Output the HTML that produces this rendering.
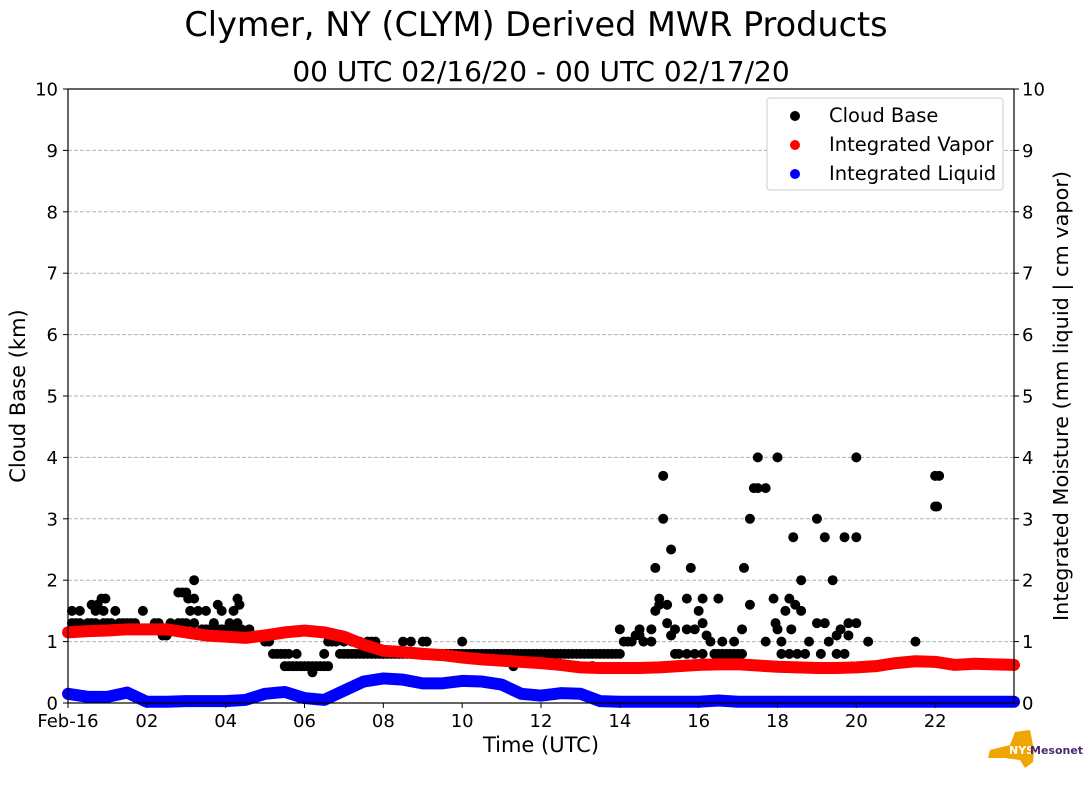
<!DOCTYPE html>
<html><head><meta charset="utf-8"><style>
body{margin:0;background:#fff;width:1089px;height:804px;overflow:hidden;font-family:"DejaVu Sans","Liberation Sans",sans-serif}
</style></head><body>
<svg id="chart" width="1089" height="804" font-family="DejaVu Sans, Liberation Sans, sans-serif">
<text x="536" y="36" font-size="33.5" text-anchor="middle">Clymer, NY (CLYM) Derived MWR Products</text>
<text x="541" y="81" font-size="28" text-anchor="middle">00 UTC 02/16/20 - 00 UTC 02/17/20</text>
<g id="grid"></g><g id="marks"></g>
<rect x="68" y="89" width="946" height="614" fill="none" stroke="#000" stroke-width="1.2"/>
<g id="axes" font-size="18"></g>
<text x="25" y="396" font-size="21" text-anchor="middle" transform="rotate(-90 25 396)">Cloud Base (km)</text>
<text x="1068" y="396" font-size="20.8" text-anchor="middle" transform="rotate(-90 1068 396)">Integrated Moisture (mm liquid | cm vapor)</text>
<text x="541" y="752" font-size="21" text-anchor="middle">Time (UTC)</text>
<g>
<rect x="767" y="98" width="236" height="92" rx="3" fill="#fff" stroke="#ccc"/>
<circle cx="795" cy="116" r="5" fill="#000"/><text x="829" y="122" font-size="19.5">Cloud Base</text>
<circle cx="795" cy="145" r="5" fill="#f00"/><text x="829" y="151" font-size="19.5">Integrated Vapor</text>
<circle cx="795" cy="174" r="5" fill="#00f"/><text x="829" y="180" font-size="19.5">Integrated Liquid</text>
</g>
<g>
<path d="M990 750 L1010 745 L1015 732 L1030 730 L1034 750 L1033 762 L1025 768 L1020 760 L1005 758 L988 758 Z" fill="#f0a500"/>
<text x="1009" y="754" font-size="11" font-weight="bold" fill="#fff">NYS</text>
<text x="1030" y="754" font-size="11" font-weight="bold" fill="#4b2a6b">Mesonet</text>
</g>
</svg>
<script>
const hours=[0,0.5,1,1.5,2,2.5,3,3.5,4,4.5,5,5.5,6,6.5,7,7.5,8,8.5,9,9.5,10,10.5,11,11.5,12,12.5,13,13.5,14,14.5,15,15.5,16,16.5,17,17.5,18,18.5,19,19.5,20,20.5,21,21.5,22,22.5,23,23.5,24];
const vapor=[1.15,1.17,1.18,1.2,1.2,1.2,1.15,1.1,1.08,1.06,1.1,1.15,1.18,1.15,1.08,0.95,0.85,0.83,0.8,0.78,0.74,0.71,0.69,0.67,0.65,0.62,0.58,0.57,0.57,0.57,0.58,0.6,0.62,0.63,0.63,0.61,0.59,0.58,0.57,0.57,0.58,0.6,0.65,0.68,0.67,0.62,0.64,0.63,0.62];
const liquid=[0.15,0.1,0.1,0.17,0.02,0.02,0.03,0.03,0.03,0.05,0.15,0.18,0.08,0.05,0.2,0.35,0.4,0.38,0.32,0.32,0.36,0.35,0.3,0.15,0.12,0.16,0.15,0.03,0.02,0.02,0.02,0.02,0.02,0.04,0.02,0.02,0.02,0.02,0.02,0.02,0.02,0.02,0.02,0.02,0.02,0.02,0.02,0.02,0.02];
const cbTimes=[0.1,0.2,0.3,0.5,0.6,0.7,0.9,1.0,1.1,1.3,1.4,1.5,1.6,1.7,0.1,0.3,0.7,0.9,1.2,1.9,0.6,0.75,0.85,0.95,2.2,2.3,2.6,2.8,2.9,3.0,2.4,2.5,2.0,3.4,3.5,3.6,3.8,3.9,4.0,4.2,4.4,4.6,3.2,3.7,4.1,4.3,2.8,2.9,3.0,3.05,3.2,3.2,3.1,3.3,3.5,3.9,4.2,3.8,4.35,4.3,4.7,4.8,4.9,5.0,5.1,5.2,5.3,5.4,5.5,5.6,5.5,5.6,5.7,5.8,5.9,6.0,6.1,6.2,6.3,6.4,6.5,6.6,6.2,5.8,6.5,6.6,6.7,6.8,7.0,7.2,7.4,7.6,7.7,7.8,
6.9,7.0,7.1,7.2,7.3,7.4,7.5,7.6,7.7,7.8,7.9,8.0,8.1,8.2,8.3,8.4,8.5,8.6,8.7,8.8,8.9,9.0,9.1,9.2,9.3,9.4,9.5,9.6,9.7,9.8,9.9,10.0,10.1,10.2,10.3,10.4,10.5,10.6,10.7,10.8,10.9,11.0,11.1,11.2,11.3,11.4,11.5,11.6,11.7,11.8,11.9,12.0,12.1,12.2,12.3,12.4,12.5,12.6,12.7,12.8,12.9,13.0,13.1,13.2,13.3,13.4,13.5,13.6,13.7,13.8,13.9,8.5,8.7,9.0,9.1,10.0,11.3,13.3,
14.0,14.1,14.2,14.3,14.4,14.5,14.6,14.8,14.0,14.5,14.8,14.9,15.0,15.2,15.0,14.9,15.1,15.1,15.3,15.2,15.3,15.4,15.4,15.5,15.7,15.9,16.1,15.7,15.8,15.7,15.9,16.0,16.1,16.1,16.2,16.3,16.6,16.4,16.5,16.6,16.7,16.8,16.9,17.0,17.1,16.5,16.9,17.1,17.15,17.3,17.3,17.4,17.5,17.5,17.7,17.7,17.9,17.95,18.0,18.0,18.1,18.1,18.3,18.2,18.3,18.5,18.35,18.4,18.45,18.6,18.6,18.7,18.8,19.0,19.0,19.2,19.1,19.2,19.3,19.4,19.5,19.5,19.7,19.6,19.7,19.8,19.8,20.0,20.0,20.0,20.3,21.5,22.0,22.1,22.05,22.0];
const cbValues=[1.3,1.3,1.3,1.3,1.3,1.3,1.3,1.3,1.3,1.3,1.3,1.3,1.3,1.3,1.5,1.5,1.5,1.5,1.5,1.5,1.6,1.6,1.7,1.7,1.3,1.3,1.3,1.3,1.3,1.3,1.1,1.1,1.2,1.2,1.2,1.2,1.2,1.2,1.2,1.2,1.2,1.2,1.3,1.3,1.3,1.3,1.8,1.8,1.8,1.7,1.7,2.0,1.5,1.5,1.5,1.5,1.5,1.6,1.6,1.7,1.1,1.1,1.1,1.0,1.0,0.8,0.8,0.8,0.8,0.8,0.6,0.6,0.6,0.6,0.6,0.6,0.6,0.6,0.6,0.6,0.6,0.6,0.5,0.8,0.8,1.0,1.0,1.0,1.0,1.0,1.0,1.0,1.0,1.0,
0.8,0.8,0.8,0.8,0.8,0.8,0.8,0.8,0.8,0.8,0.8,0.8,0.8,0.8,0.8,0.8,0.8,0.8,0.8,0.8,0.8,0.8,0.8,0.8,0.8,0.8,0.8,0.8,0.8,0.8,0.8,0.8,0.8,0.8,0.8,0.8,0.8,0.8,0.8,0.8,0.8,0.8,0.8,0.8,0.8,0.8,0.8,0.8,0.8,0.8,0.8,0.8,0.8,0.8,0.8,0.8,0.8,0.8,0.8,0.8,0.8,0.8,0.8,0.8,0.8,0.8,0.8,0.8,0.8,0.8,0.8,1.0,1.0,1.0,1.0,1.0,0.6,0.6,
0.8,1.0,1.0,1.0,1.1,1.1,1.0,1.0,1.2,1.2,1.2,1.5,1.6,1.6,1.7,2.2,3.0,3.7,2.5,1.3,1.1,1.2,0.8,0.8,0.8,0.8,0.8,1.7,2.2,1.2,1.2,1.5,1.3,1.7,1.1,1.0,1.0,0.8,0.8,0.8,0.8,0.8,0.8,0.8,0.8,1.7,1.0,1.2,2.2,1.6,3.0,3.5,3.5,4.0,3.5,1.0,1.7,1.3,1.2,4.0,0.8,1.0,1.7,1.5,0.8,0.8,1.2,2.7,1.6,1.5,2.0,0.8,1.0,3.0,1.3,1.3,0.8,2.7,1.0,2.0,1.1,0.8,0.8,1.2,2.7,1.1,1.3,2.7,4.0,1.3,1.0,1.0,3.7,3.7,3.2,3.2];
const yTicks=[0,1,2,3,4,5,6,7,8,9,10];
const xTicks=[0,2,4,6,8,10,12,14,16,18,20,22];
const xTickLabels=["Feb-16","02","04","06","08","10","12","14","16","18","20","22"];

const X=h=>68+h*946/24, Y=v=>703-v*61.4;
const NS="http://www.w3.org/2000/svg";
function mk(t,a,p){const e=document.createElementNS(NS,t);for(const k in a)e.setAttribute(k,a[k]);p.appendChild(e);return e;}
const grid=document.getElementById('grid'),axes=document.getElementById('axes'),marks=document.getElementById('marks');
yTicks.forEach(v=>{
 if(v>0&&v<10){const g=mk('line',{x1:68,x2:1014,y1:Y(v),y2:Y(v),stroke:'#b0b0b0','stroke-dasharray':'4,2','stroke-width':1},grid);
 
 }
 mk('line',{x1:63,x2:68,y1:Y(v),y2:Y(v),stroke:'#000'},axes);
 mk('line',{x1:1014,x2:1019,y1:Y(v),y2:Y(v),stroke:'#000'},axes);
 const l=mk('text',{x:58,y:Y(v)+6.5,'text-anchor':'end'},axes);l.textContent=v;
 
 
 const r=mk('text',{x:1022,y:Y(v)+6.5},axes);r.textContent=v;
 
 
});
xTicks.forEach((h,i)=>{
 mk('line',{x1:X(h),x2:X(h),y1:703,y2:708,stroke:'#000'},axes);
 const t=mk('text',{x:X(h),y:727,'text-anchor':'middle'},axes);t.textContent=xTickLabels[i];
 
 
});
cbTimes.forEach((h,i)=>{const c=mk('circle',{cx:X(h),cy:Y(cbValues[i]),r:5,fill:'#000'},marks);
 
 });
function series(vals,col,name){
 const p=mk('polyline',{points:hours.map((h,i)=>X(h)+','+Y(vals[i])).join(' '),fill:'none',stroke:col,'stroke-width':12,'stroke-linejoin':'round','stroke-linecap':'round'},marks);
 
 
}
series(vapor,'#f00','integrated-vapor-series');
series(liquid,'#00f','integrated-liquid-series');
</script>
</body></html>
